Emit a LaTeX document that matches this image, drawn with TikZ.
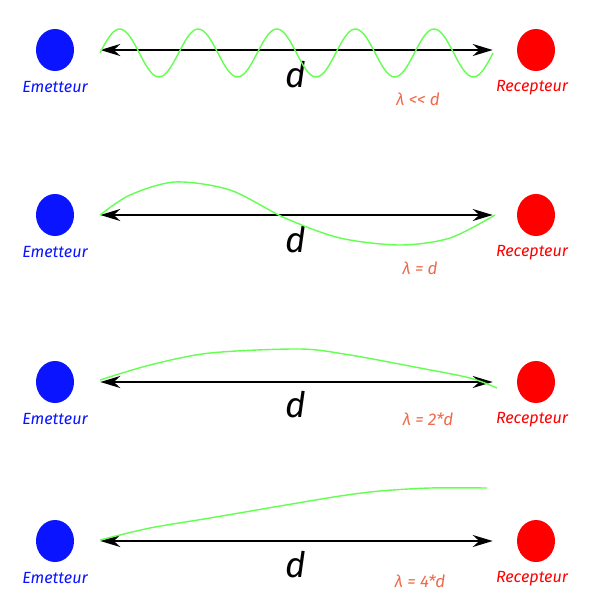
\documentclass[tikz,border=0pt]{standalone}
\usepackage{fontspec}
\setmainfont{Fira Sans}
\usetikzlibrary{shapes.geometric, arrows.meta}

\definecolor{emblue}{RGB}{10,20,255}
\definecolor{wavegreen}{RGB}{100,255,80}
\definecolor{tomatoish}{RGB}{238,106,74}

\tikzset{
    emit/.style={ellipse, fill=emblue, minimum width=0.95cm, minimum height=1.05cm, inner sep=0pt},
    recv/.style={ellipse, fill=red, minimum width=0.95cm, minimum height=1.05cm, inner sep=0pt},
    tag/.style={font=\itshape\fontsize{11.5}{13}\selectfont},
    dist/.style={font=\itshape\fontsize{25}{28}\selectfont},
    ratio/.style={tomatoish, font=\itshape\fontsize{12}{14}\selectfont},
    wave/.style={wavegreen, line width=1pt},
    span/.style={{Stealth[length=5mm, width=3mm]}-{Stealth[length=5mm, width=3mm]}, line width=1.3pt, shorten <=0.65cm, shorten >=0.6cm}
}

\begin{document}
\begin{tikzpicture}[x=0.025cm, y=-0.025cm]
    \useasboundingbox (0,0) rectangle (600,605);

    % Emitters, receivers and distance d
    \foreach \n/\y/\dy in {1/50/25, 2/215/25, 3/382/23, 4/541/24} {
        \node[emit] (e\n) at (55,\y) {};
        \node[recv] (r\n) at (536,\y) {};
        \node[tag, emblue] (te\n) at (55,\y+37.5) {Emetteur};
        \node[tag, red] (tr\n) at (532,\y+37.5) {Recepteur};
        \draw[span] (e\n) -- (r\n);
        \node[dist] (d\n) at (296,\y+\dy) {d};
    }

    % Wavelength labels
    \node[ratio] (l1) at (418,99) {λ {<}{<} d};
    \node[ratio] (l2) at (420,268) {λ = d};
    \node[ratio] (l3) at (428,419) {λ = 2*d};
    \node[ratio] (l4) at (420,581) {λ = 4*d};

    % Waves
    \draw[wave] plot[domain=100:493, samples=160, smooth] (\x, {53 - 24*sin(4.58*(\x-100))});
    \draw[wave] plot[smooth] coordinates {(100,215) (130,195) (175,182) (230,190) (285,218) (340,238) (400,245) (450,238) (495,215)};
    \draw[wave] plot[smooth] coordinates {(100,380) (150,365) (210,353) (300,349) (350,355) (420,368) (470,378) (497,388)};
    \draw[wave] plot[smooth] coordinates {(100,540) (150,528) (210,518) (280,506) (340,496) (380,491) (430,488) (487,488)};
\end{tikzpicture}
\end{document}
